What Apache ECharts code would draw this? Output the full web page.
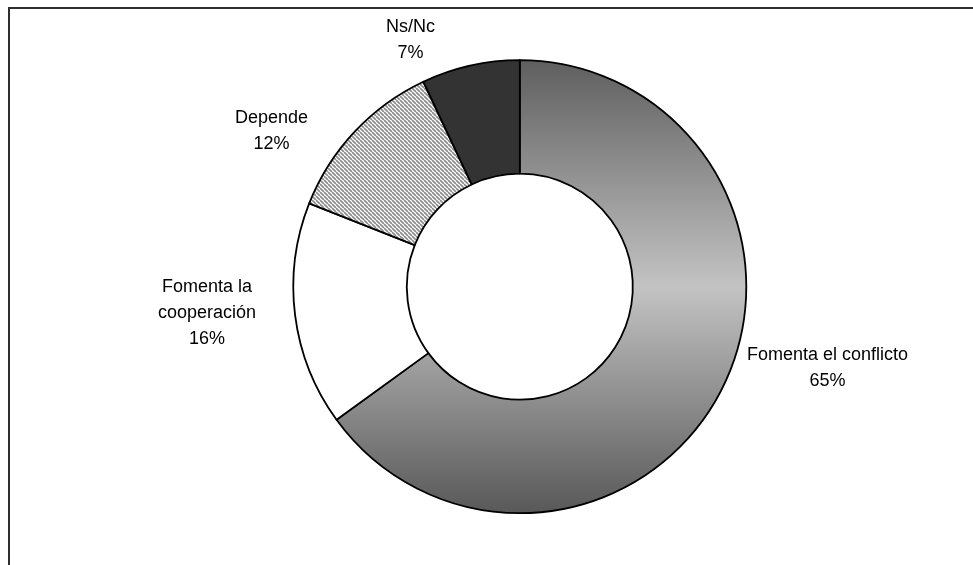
<!DOCTYPE html>
<html>
<head>
<meta charset="utf-8">
<script src="https://cdn.jsdelivr.net/npm/echarts@6/dist/echarts.min.js"></script>
<style>
  html, body { margin: 0; padding: 0; background: #ffffff; }
  #chart { width: 973px; height: 565px; }
</style>
</head>
<body>
<div id="chart"></div>
<script>
// Opinion shares, in drawing order (clockwise from 12 o'clock)
const categories = ['Fomenta el conflicto', 'Fomenta la\ncooperación', 'Depende', 'Ns/Nc'];
const shares = [65, 16, 12, 7];

// Label placement along each slice's mid-angle: radial reach and horizontal run
const labelReach = [-47.5, -16.5, 0.2, 26.3];
const labelRun = [67.7, 55.5, 46.5, 29.7];

// Diagonal hatch tile for the "Depende" slice
function hatchTile() {
  const c = document.createElement('canvas');
  c.width = 4; c.height = 4;
  const g = c.getContext('2d');
  g.fillStyle = '#ffffff';
  g.fillRect(0, 0, 4, 4);
  g.strokeStyle = '#8a8a8a';
  g.lineWidth = 1.6;
  g.beginPath();
  for (const k of [-4, 0, 4]) { g.moveTo(k, 0); g.lineTo(k + 4, 4); }
  g.stroke();
  return c;
}

const fills = [
  { type: 'linear', x: 0, y: 0, x2: 0, y2: 1,
    colorStops: [
      { offset: 0, color: '#5e5e5e' },
      { offset: 0.5, color: '#c3c3c3' },
      { offset: 1, color: '#585858' }
    ] },
  '#ffffff',
  { image: hatchTile(), repeat: 'repeat' },
  '#333333'
];

const font = "'Liberation Sans', Arial, sans-serif";

const chart = echarts.init(document.getElementById('chart'), null, { renderer: 'canvas' });

chart.setOption({
  animation: false,
  backgroundColor: '#ffffff',
  graphic: [{
    type: 'rect',
    silent: true,
    shape: { x: 9, y: 8, width: 1200, height: 1000 },
    style: { fill: 'none', stroke: '#2e2e2e', lineWidth: 2 }
  }],
  series: [{
    type: 'pie',
    center: [519.8, 286.7],
    radius: [113, 226.5],
    startAngle: 90,
    clockwise: true,
    avoidLabelOverlap: false,
    silent: true,
    emphasis: { disabled: true },
    itemStyle: { borderColor: '#000000', borderWidth: 1.8 },
    label: {
      show: true,
      position: 'outside',
      distanceToLabelLine: 0,
      fontFamily: font,
      fontSize: 18,
      lineHeight: 26,
      color: '#000000',
      formatter: function (p) {
        const lines = String(p.name).split('\n').concat([p.value + '%']);
        return lines.map(function (s) { return '{c|' + s + '}'; }).join('\n');
      },
      rich: {
        c: { align: 'center', fontFamily: font, fontSize: 18, lineHeight: 26, color: '#000000' }
      }
    },
    labelLine: { show: false },
    data: categories.map(function (name, i) {
      return {
        name: name,
        value: shares[i],
        itemStyle: { color: fills[i] },
        labelLine: { show: false, length: labelReach[i], length2: labelRun[i] }
      };
    })
  }]
});
</script>
</body>
</html>
